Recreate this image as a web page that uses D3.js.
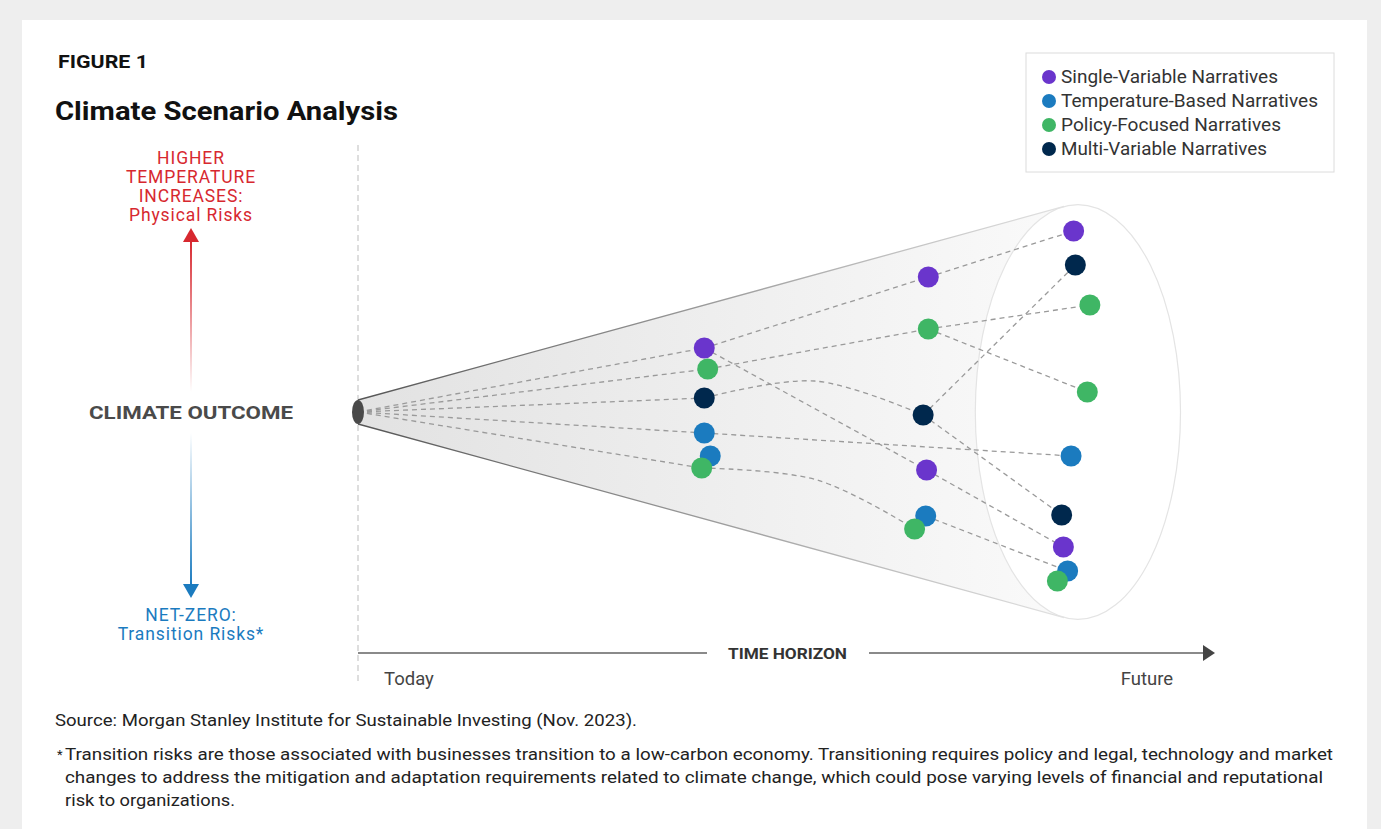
<!DOCTYPE html>
<html>
<head>
<meta charset="utf-8">
<script src="https://cdn.jsdelivr.net/npm/d3@7"></script>
<style>
  body { margin: 0; background: #eeeeee; }
  svg { display: block; font-family: Roboto, "Noto Sans", sans-serif; }
</style>
</head>
<body>
<svg id="chart" width="1381" height="829"></svg>
<script>
// narrative groups
const groups = ["Single-Variable Narratives", "Temperature-Based Narratives", "Policy-Focused Narratives", "Multi-Variable Narratives"];
const groupColors = ["#6a35cc", "#1b7bbf", "#3fb665", "#00284d"];

// dots: time (0 = today, 100 = arrow end) and outcome (+ = warmer, - = net-zero)
const nodeIds    = ["p1", "g1", "n1", "b1", "b1b", "g1b", "p2", "g2", "n2", "p2b", "b2b", "g2b", "p3", "n3", "g3", "g3b", "b3", "n3b", "p3b", "b3b", "g3c"];
const nodeGroup  = [0, 2, 3, 1, 1, 2, 0, 2, 3, 0, 1, 2, 0, 3, 2, 2, 1, 3, 0, 1, 2];
const nodeTime   = [40.5, 40.9, 40.5, 40.5, 41.2, 40.2, 66.7, 66.7, 66.1, 66.5, 66.4, 65.1, 83.7, 83.9, 85.6, 85.3, 83.4, 82.3, 82.5, 83.0, 81.8];
const nodeOutcome = [32, 21.5, 7, -10.5, -22, -28, 67.5, 41.5, -1.5, -29, -52, -58.5, 90.5, 73.5, 53.5, 10, -22, -51.5, -67.5, -79.5, -84.5];

// links between dots ("o" = origin today); optional bend point [time, outcome]
const linkFrom = ["o", "o", "o", "o", "o", "p1", "p2", "p1", "p2b", "g1", "g2", "g2", "n1", "n2", "n2", "b1", "g1b", "b2b"];
const linkTo   = ["p1", "g1", "n1", "b1", "g1b", "p2", "p3", "p2b", "p3b", "g2", "g3", "g3b", "n2", "n3", "n3b", "b3", "g2b", "b3b"];
const linkBend = [null, null, null, null, null, null, null, null, null, null, null, null, [53.4, 15.5], null, null, null, [53.7, -34], null];

// cone of outcomes at the future end
const coneCenterTime = 84.2, coneRadiusTime = 12, coneRadiusOutcome = 103.7;

const svg = d3.select("#chart");
const W = 1381, H = 829;

const x = d3.scaleLinear().domain([0, 100]).range([358, 1213]);
const y = d3.scaleLinear().domain([-100, 100]).range([612, 212]);

// panel
svg.append("rect").attr("x", 22).attr("y", 20).attr("width", 1345).attr("height", H - 20).attr("fill", "#fff");

const defs = svg.append("defs");
const coneGrad = defs.append("linearGradient").attr("id", "coneGrad");
coneGrad.append("stop").attr("offset", "0%").attr("stop-color", "#e2e2e2");
coneGrad.append("stop").attr("offset", "100%").attr("stop-color", "#fafafa");
const edgeGrad = defs.append("linearGradient").attr("id", "edgeGrad")
  .attr("gradientUnits", "userSpaceOnUse").attr("x1", x(0)).attr("x2", x(85)).attr("y1", 0).attr("y2", 0);
edgeGrad.append("stop").attr("offset", "0%").attr("stop-color", "#555");
edgeGrad.append("stop").attr("offset", "100%").attr("stop-color", "#e6e6e6");

const ax = 191;
const redGrad = defs.append("linearGradient").attr("id", "redGrad").attr("gradientUnits", "userSpaceOnUse")
  .attr("x1", 0).attr("x2", 0).attr("y1", 392).attr("y2", 240);
redGrad.append("stop").attr("offset", "0%").attr("stop-color", "#d7282f").attr("stop-opacity", 0);
redGrad.append("stop").attr("offset", "100%").attr("stop-color", "#d7282f").attr("stop-opacity", 1);
const blueGrad = defs.append("linearGradient").attr("id", "blueGrad").attr("gradientUnits", "userSpaceOnUse")
  .attr("x1", 0).attr("x2", 0).attr("y1", 433).attr("y2", 586);
blueGrad.append("stop").attr("offset", "0%").attr("stop-color", "#1b7bbf").attr("stop-opacity", 0);
blueGrad.append("stop").attr("offset", "100%").attr("stop-color", "#1b7bbf").attr("stop-opacity", 1);

// headings
svg.append("text").attr("x", 58).attr("y", 68).attr("font-size", 17.5).attr("font-weight", 700)
  .attr("fill", "#111").attr("textLength", 90).attr("lengthAdjust", "spacingAndGlyphs").text("FIGURE 1");
svg.append("text").attr("x", 55).attr("y", 120).attr("font-size", 25).attr("font-weight", 700)
  .attr("fill", "#111").attr("textLength", 343).attr("lengthAdjust", "spacingAndGlyphs").text("Climate Scenario Analysis");

// today divider
svg.append("line").attr("x1", x(0)).attr("x2", x(0)).attr("y1", 145).attr("y2", 682)
  .attr("stroke", "#d4d4d4").attr("stroke-width", 1.5).attr("stroke-dasharray", "6,4");

// cone
const cx = x(coneCenterTime), cy = y(0);
const ra = x(coneCenterTime + coneRadiusTime) - cx, rb = y(0) - y(coneRadiusOutcome);
const apexR = 12;
function tangent(py, sign) {
  const u = (x(0) - cx) / ra, v = (py - cy) / rb;
  const phi = Math.atan2(v, u), d = Math.hypot(u, v);
  const th = phi + sign * Math.acos(1 / d);
  return [cx + ra * Math.cos(th), cy + rb * Math.sin(th)];
}
const tTop = tangent(cy - apexR, 1), tBot = tangent(cy + apexR, -1);
svg.append("path")
  .attr("d", `M${x(0)},${cy - apexR}L${tTop[0]},${tTop[1]}L${tBot[0]},${tBot[1]}L${x(0)},${cy + apexR}Z`)
  .attr("fill", "url(#coneGrad)");
svg.append("ellipse").attr("cx", cx).attr("cy", cy).attr("rx", ra).attr("ry", rb)
  .attr("fill", "#fff").attr("stroke", "#e4e4e4").attr("stroke-width", 1.2);
svg.append("path")
  .attr("d", `M${x(0)},${cy - apexR}L${tTop[0]},${tTop[1]}M${x(0)},${cy + apexR}L${tBot[0]},${tBot[1]}`)
  .attr("fill", "none").attr("stroke", "url(#edgeGrad)").attr("stroke-width", 1.3);

// links
const pos = {o: [0, 0]};
nodeIds.forEach((id, i) => { pos[id] = [nodeTime[i], nodeOutcome[i]]; });
const line = d3.line().x(d => x(d[0])).y(d => y(d[1])).curve(d3.curveCatmullRom.alpha(0.5));
svg.append("g").selectAll("path").data(linkFrom.map((f, i) => {
    const pts = [pos[f]];
    if (linkBend[i]) pts.push(linkBend[i]);
    pts.push(pos[linkTo[i]]);
    return pts;
  }))
  .join("path").attr("d", line)
  .attr("fill", "none").attr("stroke", "#9a9a9a").attr("stroke-width", 1.3).attr("stroke-dasharray", "5,4");

svg.append("ellipse").attr("cx", x(0)).attr("cy", cy).attr("rx", 6).attr("ry", apexR).attr("fill", "#4a4a4a");

// dots, drawn purple, navy, blue, green
const drawOrder = [0, 3, 1, 2];
const nodes = nodeIds.map((id, i) => ({id, g: nodeGroup[i], t: nodeTime[i], o: nodeOutcome[i]}))
  .sort((a, b) => drawOrder.indexOf(a.g) - drawOrder.indexOf(b.g));
svg.append("g").selectAll("circle").data(nodes).join("circle")
  .attr("cx", d => x(d.t)).attr("cy", d => y(d.o)).attr("r", 10.5)
  .attr("fill", d => groupColors[d.g]);

// legend
const legendWidths = [217, 257, 220, 206];
const lg = svg.append("g").attr("transform", "translate(1026,53)");
lg.append("rect").attr("width", 308).attr("height", 119).attr("fill", "#fff").attr("stroke", "#dcdcdc");
groups.forEach((g, i) => {
  lg.append("circle").attr("cx", 23).attr("cy", 24 + i * 24).attr("r", 7).attr("fill", groupColors[i]);
  lg.append("text").attr("x", 35).attr("y", 30 + i * 24).attr("font-size", 17.5).attr("fill", "#333")
    .attr("textLength", legendWidths[i]).attr("lengthAdjust", "spacingAndGlyphs").text(g);
});

// outcome axis (left)
svg.append("line").attr("x1", ax).attr("x2", ax).attr("y1", 392).attr("y2", 240)
  .attr("stroke", "url(#redGrad)").attr("stroke-width", 2);
svg.append("path").attr("d", `M${ax - 8},${242}L${ax},${228}L${ax + 8},${242}Z`).attr("fill", "#d7282f");
svg.append("line").attr("x1", ax).attr("x2", ax).attr("y1", 433).attr("y2", 586)
  .attr("stroke", "url(#blueGrad)").attr("stroke-width", 2);
svg.append("path").attr("d", `M${ax - 8},${584}L${ax},${598}L${ax + 8},${584}Z`).attr("fill", "#1b7bbf");

const upLines = ["HIGHER", "TEMPERATURE", "INCREASES:", "Physical Risks"];
svg.append("g").selectAll("text").data(upLines).join("text")
  .attr("x", ax).attr("y", (d, i) => 164 + i * 19).attr("text-anchor", "middle")
  .attr("font-size", 17.5).attr("letter-spacing", 0.9).attr("fill", "#d7282f").text(d => d);
const downLines = ["NET-ZERO:", "Transition Risks*"];
svg.append("g").selectAll("text").data(downLines).join("text")
  .attr("x", ax).attr("y", (d, i) => 621 + i * 19).attr("text-anchor", "middle")
  .attr("font-size", 17.5).attr("letter-spacing", 0.9).attr("fill", "#1b7bbf").text(d => d);
svg.append("text").attr("x", 89).attr("y", 419)
  .attr("font-size", 18.5).attr("font-weight", 700).attr("fill", "#4a4a4a")
  .attr("textLength", 204).attr("lengthAdjust", "spacingAndGlyphs")
  .text("CLIMATE OUTCOME");

// time axis
const ty = 653;
svg.append("line").attr("x1", x(0)).attr("x2", 707).attr("y1", ty).attr("y2", ty).attr("stroke", "#8a8a8a").attr("stroke-width", 2);
svg.append("line").attr("x1", 869).attr("x2", x(100) - 8).attr("y1", ty).attr("y2", ty).attr("stroke", "#8a8a8a").attr("stroke-width", 2);
svg.append("path").attr("d", `M${x(100) - 10},${ty - 8}L${x(100) + 2},${ty}L${x(100) - 10},${ty + 8}Z`).attr("fill", "#444");
svg.append("text").attr("x", 728).attr("y", ty + 5.5)
  .attr("font-size", 15).attr("font-weight", 700).attr("fill", "#333")
  .attr("textLength", 119).attr("lengthAdjust", "spacingAndGlyphs").text("TIME HORIZON");
svg.append("text").attr("x", 384).attr("y", 685).attr("font-size", 18.5).attr("fill", "#444").text("Today");
svg.append("text").attr("x", 1147).attr("y", 685).attr("text-anchor", "middle").attr("font-size", 18.5).attr("fill", "#444").text("Future");

// notes
svg.append("text").attr("x", 55).attr("y", 726).attr("font-size", 16.5).attr("fill", "#222")
  .attr("textLength", 582).attr("lengthAdjust", "spacingAndGlyphs")
  .text("Source: Morgan Stanley Institute for Sustainable Investing (Nov. 2023).");
svg.append("text").attr("x", 57).attr("y", 759).attr("font-size", 13).attr("fill", "#222").text("*");
const noteLines = [
  "Transition risks are those associated with businesses transition to a low-carbon economy. Transitioning requires policy and legal, technology and market",
  "changes to address the mitigation and adaptation requirements related to climate change, which could pose varying levels of financial and reputational",
  "risk to organizations."
];
const noteWidths = [1268, 1258, 170];
svg.append("g").selectAll("text").data(noteLines).join("text")
  .attr("x", 65).attr("y", (d, i) => 760 + i * 23).attr("font-size", 16.5).attr("fill", "#222")
  .attr("textLength", (d, i) => noteWidths[i]).attr("lengthAdjust", "spacingAndGlyphs")
  .text(d => d);
</script>
</body>
</html>
